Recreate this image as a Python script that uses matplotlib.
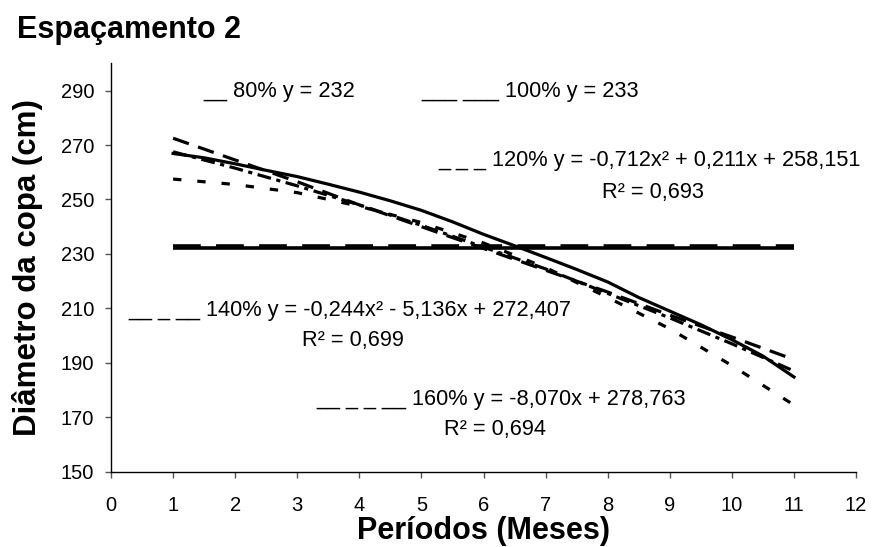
import matplotlib
matplotlib.use("Agg")
import matplotlib.pyplot as plt

plt.rcParams['font.family'] = ['Liberation Sans', 'DejaVu Sans']
plt.rcParams['lines.scale_dashes'] = False

# months (x) for the fitted curves
meses = [1, 2, 3, 4, 5, 6, 7, 8, 9, 10, 11]
meses_meio = [1, 1.5, 2, 2.5, 3, 3.5, 4, 4.5, 5, 5.5, 6, 6.5, 7, 7.5, 8, 8.5, 9, 9.5, 10, 10.5, 11]
meses_ext = [1, 11]

# values
d80 = [232, 232]
d100 = [233, 233]
d120 = [257.5, 255.5, 252.5, 247.5, 241.5, 234.0, 225.0, 214.0, 202.5, 189.0, 174.5]
d140 = [267.5, 261.5, 255.0, 248.0, 240.5, 232.5, 224.5, 215.5, 206.5, 197.0, 187.0]
d160 = [272.5, 264.5, 256.5, 248.0, 240.0, 232.0, 224.0, 216.0, 207.5, 199.5, 191.2]
d_solid = [266.9, 265.3, 263.1, 260.7, 258.4, 255.6, 252.7, 249.5, 246.0, 241.8, 237.2,
           233.0, 228.7, 224.3, 219.7, 214.0, 209.0, 204.0, 198.5, 192.5, 184.8]

xticks = list(range(0, 13))
yticks = list(range(150, 300, 20))

fig = plt.figure(figsize=(8.72, 5.47), dpi=100)
ax = fig.add_axes([0.1273, 0.1376, 0.8544, 0.7466])

lw = 2.3
ax.plot(meses_ext, d80, color='black', lw=2.6, solid_capstyle='butt')
ax.plot(meses_ext, d100, color='black', lw=2.6, dashes=(20, 11))
ax.plot(meses_meio, d_solid, color='black', lw=lw)
ax.plot(meses, d160, color='black', lw=lw, dashes=(12, 7))
ax.plot(meses, d140, color='black', lw=lw, dashes=(10, 4, 3, 4))
ax.plot(meses, d120, color='black', lw=lw, dashes=(6, 11.5))

# equation labels (written in the chart as plain text)
fs = 15.7
ax.text(1.48, 289.7, "__ 80% y = 232", fontsize=fs, va='center')
ax.text(5.00, 289.7, "___ ___ 100% y = 233", fontsize=fs, va='center')
ax.text(5.27, 264.3, "_ _ _ 120% y = -0,712x² + 0,211x + 258,151", fontsize=fs, va='center')
ax.text(8.73, 252.5, "R² = 0,693", fontsize=fs, va='center', ha='center')
ax.text(0.28, 209.2, "__ _ __ 140% y = -0,244x² - 5,136x + 272,407", fontsize=fs, va='center')
ax.text(3.89, 198.1, "R² = 0,699", fontsize=fs, va='center', ha='center')
ax.text(3.31, 176.4, "__ _ _ __ 160% y = -8,070x + 278,763", fontsize=fs, va='center')
ax.text(6.18, 165.4, "R² = 0,694", fontsize=fs, va='center', ha='center')

ax.set_xlim(0, 12)
ax.set_ylim(150, 300)
ax.set_xticks(xticks)
ax.set_yticks(yticks)
ax.tick_params(axis='both', direction='out', length=4.5, width=1, labelsize=14.5,
               color='#555555')
ax.tick_params(axis='y', pad=7.5)
ax.tick_params(axis='x', pad=13)
for s in ['top', 'right']:
    ax.spines[s].set_visible(False)
for s in ['left', 'bottom']:
    ax.spines[s].set_linewidth(1.0)

fig.text(0.031, 0.511, "Diâmetro da copa (cm)", rotation=90, fontsize=22.5,
         fontweight='bold', ha='center', va='center')
fig.text(0.555, 0.03, "Períodos (Meses)", fontsize=22, fontweight='bold',
         ha='center', va='center')
fig.text(0.02, 0.945, "Espaçamento 2", fontsize=22, fontweight='bold',
         ha='left', va='center')

fig.savefig("out.png", dpi=100)
